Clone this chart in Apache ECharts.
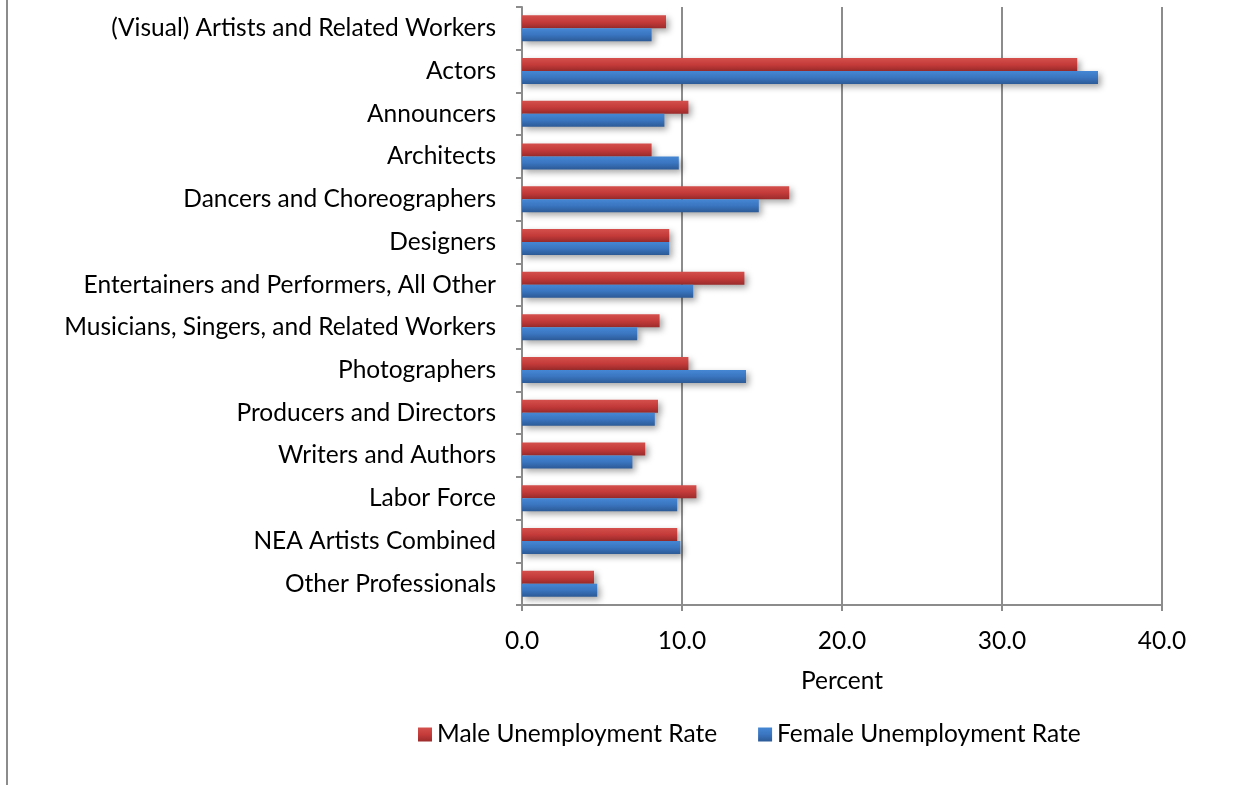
<!DOCTYPE html>
<html>
<head>
<meta charset="utf-8">
<script src="https://cdn.jsdelivr.net/npm/echarts@6/dist/echarts.min.js"></script>
<style>
  html, body { margin: 0; padding: 0; background: #ffffff; }
  #chart { width: 1252px; height: 785px; }
</style>
</head>
<body>
<div id="chart"></div>
<script>
// Occupations, listed top to bottom
const occupations = [
  '(Visual) Artists and Related Workers',
  'Actors',
  'Announcers',
  'Architects',
  'Dancers and Choreographers',
  'Designers',
  'Entertainers and Performers, All Other',
  'Musicians, Singers, and Related Workers',
  'Photographers',
  'Producers and Directors',
  'Writers and Authors',
  'Labor Force',
  'NEA Artists Combined',
  'Other Professionals'
];

// Unemployment rates (percent)
const maleRate   = [9.0, 34.7, 10.4, 8.1, 16.7, 9.2, 13.9, 8.6, 10.4, 8.5, 7.7, 10.9, 9.7, 4.5];
const femaleRate = [8.1, 36.0, 8.9, 9.8, 14.8, 9.2, 10.7, 7.2, 14.0, 8.3, 6.9, 9.7, 9.9, 4.7];

const xTicks = { min: 0, max: 40, interval: 10 };

const FONT = 'Lato, "Open Sans", sans-serif';
const FONT_SIZE = 24.5;
const AXIS_GRAY = '#8c8c8c';

function grad(top, mid, bottom) {
  return new echarts.graphic.LinearGradient(0, 0, 0, 1, [
    { offset: 0, color: top },
    { offset: 0.5, color: mid },
    { offset: 1, color: bottom }
  ]);
}

const maleFill = grad('#d4504d', '#c43b3a', '#9c2b2b');
const femaleFill = grad('#4587d4', '#3a75c0', '#2c5a96');

const chart = echarts.init(document.getElementById('chart'), null, { renderer: 'canvas' });

chart.setOption({
  backgroundColor: '#ffffff',
  animation: false,
  grid: { left: 522, top: 7, right: 90, bottom: 180, containLabel: false },
  legend: {
    top: 717,
    left: 413,
    itemWidth: 14,
    itemHeight: 14,
    itemGap: 41,
    icon: 'rect',
    textStyle: { fontFamily: FONT, fontSize: FONT_SIZE, color: '#000' },
    data: ['Male Unemployment Rate', 'Female Unemployment Rate']
  },
  xAxis: {
    type: 'value',
    min: xTicks.min,
    max: xTicks.max,
    interval: xTicks.interval,
    name: 'Percent',
    nameLocation: 'middle',
    nameGap: 64,
    nameTextStyle: { fontFamily: FONT, fontSize: FONT_SIZE, color: '#000' },
    axisLine: { show: true, lineStyle: { color: AXIS_GRAY, width: 2 } },
    axisTick: { show: true, length: 6, lineStyle: { color: AXIS_GRAY, width: 2 } },
    axisLabel: {
      margin: 24,
      fontFamily: FONT, fontSize: FONT_SIZE, color: '#000',
      formatter: v => v.toFixed(1)
    },
    splitLine: { show: true, lineStyle: { color: AXIS_GRAY, width: 2 } }
  },
  yAxis: {
    type: 'category',
    inverse: true,
    data: occupations,
    axisLine: { show: true, lineStyle: { color: AXIS_GRAY, width: 2 } },
    axisTick: { show: true, length: 6, lineStyle: { color: AXIS_GRAY, width: 2 } },
    axisLabel: { margin: 26, fontFamily: FONT, fontSize: FONT_SIZE, color: '#000' },
    splitLine: { show: false }
  },
  graphic: [
    {
      type: 'line',
      shape: { x1: 7, y1: 0, x2: 7, y2: 785 },
      style: { stroke: '#8c8c8c', lineWidth: 2 }
    }
  ],
  series: [
    {
      name: 'Male Unemployment Rate',
      type: 'bar',
      data: maleRate,
      barWidth: 13,
      barGap: '0%',
      itemStyle: {
        color: maleFill,
        shadowColor: 'rgba(0,0,0,0.35)',
        shadowBlur: 6,
        shadowOffsetX: 3,
        shadowOffsetY: 3
      }
    },
    {
      name: 'Female Unemployment Rate',
      type: 'bar',
      data: femaleRate,
      barWidth: 13,
      barGap: '0%',
      itemStyle: {
        color: femaleFill,
        shadowColor: 'rgba(0,0,0,0.35)',
        shadowBlur: 6,
        shadowOffsetX: 3,
        shadowOffsetY: 3
      }
    }
  ]
});
</script>
</body>
</html>
